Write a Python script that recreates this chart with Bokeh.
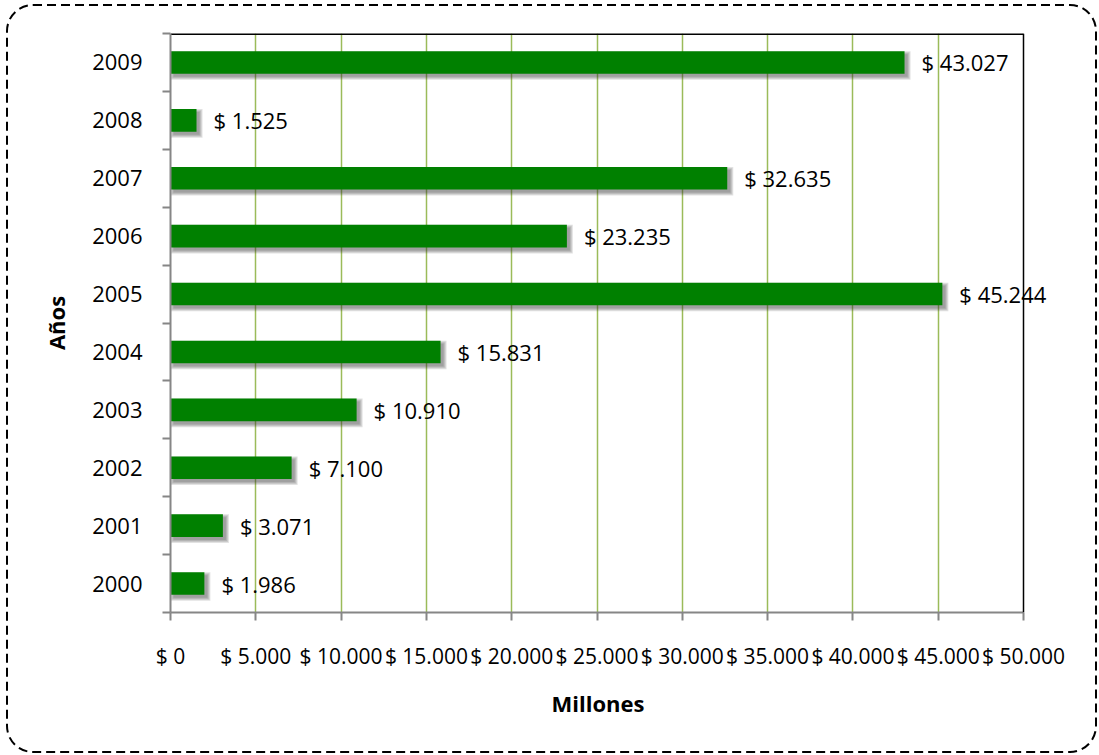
from bokeh.plotting import figure
from bokeh.models import ColumnDataSource, FixedTicker, LabelSet, Title, Span
from bokeh.core.properties import value
from bokeh.embed import file_html
from bokeh.resources import INLINE

# Data: yearly amounts (millions)
years = ["2000", "2001", "2002", "2003", "2004", "2005", "2006", "2007", "2008", "2009"]
amounts = [1986, 3071, 7100, 10910, 15831, 45244, 23235, 32635, 1525, 43027]
x_ticks = [0, 5000, 10000, 15000, 20000, 25000, 30000, 35000, 40000, 45000, 50000]
x_tick_labels = ["$ 0", "$ 5.000", "$ 10.000", "$ 15.000", "$ 20.000", "$ 25.000",
                 "$ 30.000", "$ 35.000", "$ 40.000", "$ 45.000", "$ 50.000"]

FONT = "Open Sans"
W, H = 1099, 755
ML, MT, MB = 170, 33, 143
AREA_RIGHT = 1023      # right edge of the plot area (value 50.000)
FRAME_RIGHT = 1062     # frame extends further so value labels are not cut
X_MAX = 50000
BAR_H = 0.39

pos = list(range(len(years)))
labels = ["$ " + f"{v:,}".replace(",", ".") for v in amounts]
src = ColumnDataSource(dict(y=pos, v=amounts, lab=labels))

px_x = X_MAX / (AREA_RIGHT - ML)
x_end = X_MAX + (FRAME_RIGHT - AREA_RIGHT) * px_x
y_top = len(years) - 0.5

p = figure(width=W, height=H, x_range=(0, x_end), y_range=(-0.5, y_top),
           output_backend="svg", toolbar_location=None,
           min_border_left=ML, min_border_right=W - FRAME_RIGHT,
           min_border_top=MT, min_border_bottom=MB)
p.background_fill_color = "white"
p.border_fill_color = None
p.outline_line_color = None

# dashed rounded frame around the whole chart, painted behind the canvas
border_svg = ("<svg xmlns='http://www.w3.org/2000/svg' width='1099' height='755'>"
              "<rect x='7' y='5' width='1089' height='747' rx='26' ry='26' fill='none' "
              "stroke='black' stroke-width='2' stroke-dasharray='9 5'/></svg>")
p.styles = {"background-color": "white",
            "background-image": 'url("data:image/svg+xml;utf8,' + border_svg + '")',
            "background-repeat": "no-repeat"}

# vertical grid lines (green), stopping at the plot area
p.xgrid.ticker = FixedTicker(ticks=x_ticks[1:-1])
p.xgrid.grid_line_color = "#9BBB59"
p.xgrid.grid_line_width = 1.5
p.ygrid.grid_line_color = None

# black top and right edges of the plot area
p.segment(x0=[0], y0=[y_top], x1=[X_MAX], y1=[y_top], line_color="black", line_width=3)
p.add_layout(Span(location=X_MAX, dimension="height", line_color="black", line_width=1.5))

# soft drop shadow under each bar
px_y = len(years) / (H - MT - MB)
for s in [3, 2, 1, 0]:
    p.hbar(y=[y - 3 * px_y for y in pos], left=3 * px_x - s * px_x,
           right=[v + 3 * px_x + s * px_x for v in amounts],
           height=BAR_H + 2 * s * px_y, color="#333333", alpha=0.14, line_width=0)

p.hbar(y="y", left=0, right="v", height=BAR_H, source=src, color="#008000", line_width=0)

value_labels = LabelSet(x="v", y="y", text="lab", source=src, x_offset=17,
                        text_baseline="middle", text_font=value(FONT),
                        text_font_size="22px", text_color="black")
p.add_layout(value_labels)

# x axis
p.xaxis.bounds = (0, X_MAX)
p.xaxis.ticker = FixedTicker(ticks=x_ticks)
p.xaxis.major_label_overrides = dict(zip(x_ticks, x_tick_labels))
p.xaxis.axis_line_color = "#868686"
p.xaxis.axis_line_width = 2
p.xaxis.major_tick_line_color = "#868686"
p.xaxis.major_tick_line_width = 2
p.xaxis.major_tick_out = 8
p.xaxis.major_tick_in = 0
p.xaxis.minor_tick_line_color = None
p.xaxis.major_label_standoff = 21
p.xaxis.major_label_text_font = FONT
p.xaxis.major_label_text_font_size = "21px"
p.xaxis.major_label_text_color = "black"

# x axis title, centred under the plot area (0 .. 50.000)
p.add_layout(Title(text="Millones", align="left", offset=381, standoff=27,
                   text_font=FONT, text_font_style="bold", text_font_size="22px",
                   text_color="black"), "below")

# y axis: labels centred on each bar, ticks on the category boundaries
p.yaxis.ticker = FixedTicker(ticks=pos, minor_ticks=[y - 0.5 for y in pos] + [y_top])
p.yaxis.major_label_overrides = dict(zip(pos, years))
p.yaxis.axis_line_color = "#868686"
p.yaxis.axis_line_width = 2
p.yaxis.major_tick_line_color = None
p.yaxis.major_tick_out = 0
p.yaxis.major_tick_in = 0
p.yaxis.minor_tick_line_color = "#868686"
p.yaxis.minor_tick_line_width = 2
p.yaxis.minor_tick_out = 8
p.yaxis.minor_tick_in = 0
p.yaxis.major_label_standoff = 20
p.yaxis.major_label_text_font = FONT
p.yaxis.major_label_text_font_size = "22px"
p.yaxis.major_label_text_color = "black"
p.yaxis.axis_label = "Años"
p.yaxis.axis_label_text_font = FONT
p.yaxis.axis_label_text_font_style = "bold"
p.yaxis.axis_label_text_font_size = "22px"
p.yaxis.axis_label_text_color = "black"
p.yaxis.axis_label_standoff = 18

open("out.html", "w").write(file_html(p, INLINE))
